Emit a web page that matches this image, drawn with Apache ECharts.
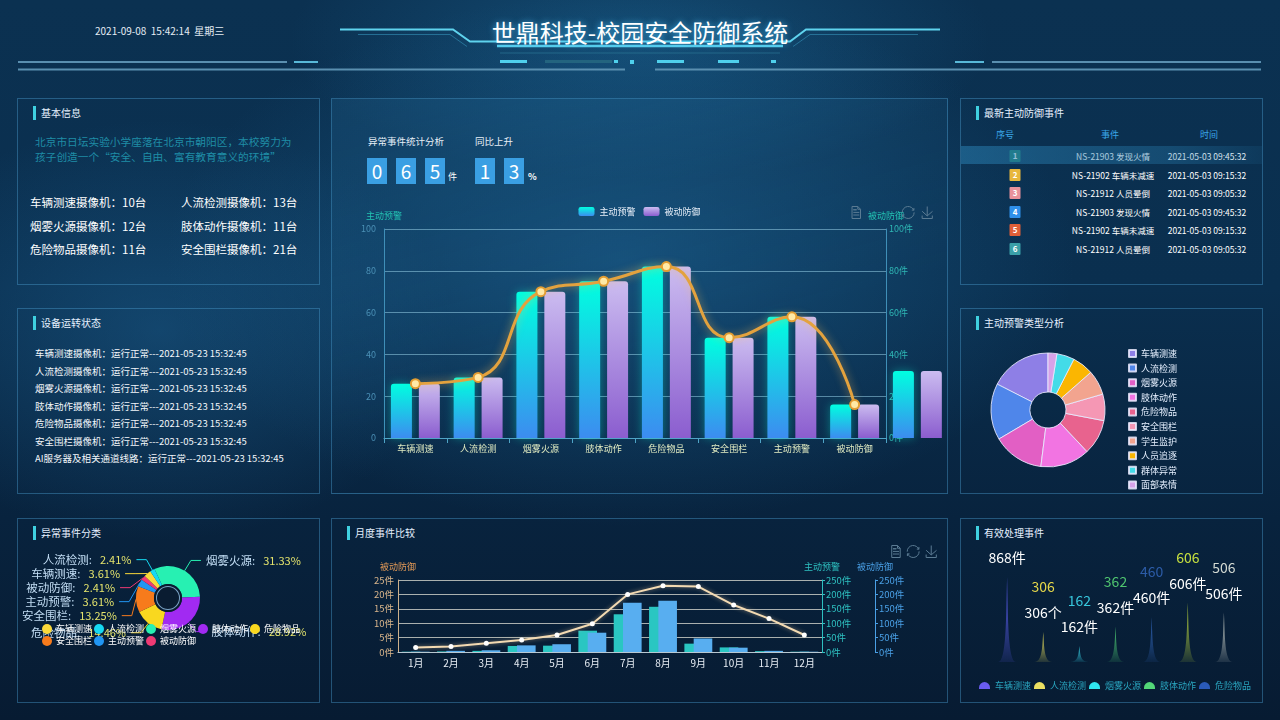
<!DOCTYPE html>
<html><head><meta charset="utf-8">
<script src="https://cdn.jsdelivr.net/npm/echarts@6/dist/echarts.min.js"></script>
<style>
*{margin:0;padding:0;box-sizing:border-box;}
html,body{width:1280px;height:720px;overflow:hidden;}
body{position:relative;font-family:"Microsoft YaHei","Noto Sans CJK SC",sans-serif;color:#fff;
background:
 radial-gradient(ellipse 650px 380px at 620px 260px, rgba(30,105,155,0.55), rgba(30,105,155,0) 70%),
 radial-gradient(ellipse 420px 300px at 160px 330px, rgba(30,100,150,0.45), rgba(30,100,150,0) 70%),
 radial-gradient(ellipse 500px 200px at 640px 40px, rgba(30,110,160,0.45), rgba(30,110,160,0) 70%),
 linear-gradient(180deg,#0b3151 0%,#0a2f4f 40%,#08233e 72%,#071b32 100%);}
.abs{position:absolute;}
.panel{position:absolute;border:1px solid rgba(72,150,200,0.45);}
.ptitle{position:absolute;left:15px;top:7px;font-size:10px;line-height:14px;color:#e6f1ff;padding-left:5px;border-left:3px solid #3fd0e0;white-space:nowrap;}
.chart{position:absolute;}
.dbox{position:absolute;width:20px;height:26px;background:#3a9fe3;color:#fff;font-size:19px;line-height:26px;text-align:center;}
.small{position:absolute;font-size:9px;color:#fff;}
.row{position:absolute;font-size:9.5px;color:#f2f6fa;white-space:nowrap;}
.cam{position:absolute;font-size:11.5px;color:#fff;white-space:nowrap;}
.th{position:absolute;font-size:9px;color:#3aa6e8;transform:translateX(-50%);white-space:nowrap;}
.td{position:absolute;font-size:8.5px;color:#fff;transform:translateX(-50%);white-space:nowrap;line-height:12px;}
.badge{position:absolute;width:11px;height:12px;font-size:8px;line-height:12px;text-align:center;color:#fff;font-weight:bold;transform:translateX(-50%);border-radius:1px;}
</style></head>
<body>
<svg class="abs" style="left:0;top:0" width="1280" height="80">
 <path d="M340 29.5 H453 L470 41.5 H790 L806 29.5 H940" stroke="#5fd3ee" stroke-width="2" fill="none"/>
 <path d="M358 34.5 H450 L467 46.5" stroke="#2f86ad" stroke-width="1" fill="none" opacity="0.7"/>
 <path d="M793 46.5 L810 34.5 H918" stroke="#2f86ad" stroke-width="1" fill="none" opacity="0.7"/>
 <line x1="497" y1="46" x2="783" y2="46" stroke="#55cdec" stroke-width="2.5"/>
 <line x1="500" y1="53" x2="780" y2="53" stroke="#2a7696" stroke-width="1" opacity="0.7"/>
 <line x1="18" y1="62" x2="287" y2="62" stroke="#5a8fb0" stroke-width="2"/>
 <line x1="294" y1="62" x2="318" y2="62" stroke="#58b8d8" stroke-width="2"/>
 <line x1="18" y1="69.5" x2="625" y2="69.5" stroke="#5a8fb0" stroke-width="2"/>
 <line x1="655" y1="69.5" x2="1261" y2="69.5" stroke="#5a8fb0" stroke-width="2"/>
 <line x1="955" y1="62" x2="984" y2="62" stroke="#58b8d8" stroke-width="2"/>
 <line x1="992" y1="62" x2="1261" y2="62" stroke="#5a8fb0" stroke-width="2"/>
 <rect x="500" y="60" width="27" height="3" fill="#4fd0ec"/>
 <rect x="545" y="60" width="67" height="3" fill="#23647f"/>
 <rect x="614" y="60" width="4" height="3" fill="#4fd0ec"/>
 <rect x="630" y="60" width="4" height="4" fill="#4fd0ec"/>
 <rect x="657" y="60" width="27" height="3" fill="#4fd0ec"/>
 <rect x="718" y="60" width="21" height="3" fill="#4fd0ec"/>
 <rect x="771" y="60" width="5" height="3" fill="#4fd0ec"/>
</svg>
<div id="hdate" class="abs" style="left:95px;top:23px;font-size:10px;color:#e4ecf4;white-space:pre;"></div>
<div id="htitle" class="abs" style="left:440px;width:400px;top:16px;font-size:24px;line-height:32px;text-align:center;color:#fff;text-shadow:0 0 6px rgba(80,200,255,0.8);"></div>

<div class="panel" style="left:17px;top:98px;width:303px;height:187px;"><div class="ptitle">基本信息</div></div>
<div class="panel" style="left:17px;top:308px;width:303px;height:186px;"><div class="ptitle">设备运转状态</div></div>
<div class="panel" style="left:17px;top:518px;width:303px;height:185px;"><div class="ptitle">异常事件分类</div></div>
<div class="panel" style="left:331px;top:98px;width:617px;height:396px;background:linear-gradient(165deg,rgba(40,120,170,0.18),rgba(40,120,170,0) 60%);"></div>
<div class="panel" style="left:331px;top:518px;width:617px;height:185px;"><div class="ptitle">月度事件比较</div></div>
<div class="panel" style="left:960px;top:98px;width:303px;height:187px;"><div class="ptitle">最新主动防御事件</div></div>
<div class="panel" style="left:960px;top:308px;width:303px;height:186px;"><div class="ptitle">主动预警类型分析</div></div>
<div class="panel" style="left:960px;top:518px;width:303px;height:185px;"><div class="ptitle">有效处理事件</div></div>

<div id="intro" class="abs" style="left:35px;top:134px;width:265px;font-size:10.7px;line-height:15px;color:#1f8da6;"></div>
<div id="cams"></div>
<div id="devs"></div>
<div class="abs" style="left:368px;top:134px;font-size:9.5px;color:#e8f0f8;">异常事件统计分析</div>
<div class="abs" style="left:475px;top:134px;font-size:9.5px;color:#e8f0f8;">同比上升</div>
<div id="digits"></div>
<div id="tbl"></div>
<div class="abs" style="left:961px;top:146px;width:301px;height:18px;background:linear-gradient(90deg,rgba(40,125,175,0.55),rgba(40,125,175,0.35) 70%,rgba(40,125,175,0.12));"></div>

<div id="c1" class="chart" style="left:331px;top:98px;width:617px;height:396px;"></div>
<div id="c2" class="chart" style="left:331px;top:518px;width:617px;height:185px;"></div>
<div class="abs" style="left:17px;top:518px;width:303px;height:185px;overflow:hidden;">
  <div id="c3" class="chart" style="left:-17px;top:0;width:320px;height:185px;"></div>
</div>
<div id="c4" class="chart" style="left:960px;top:308px;width:303px;height:186px;"></div>
<div id="c5" class="chart" style="left:960px;top:545px;width:303px;height:158px;"></div>

<script>
// ---------- data ----------
const headerDate = '2021-09-08  15:42:14  星期三';
const titleText = '世鼎科技-校园安全防御系统';
const introText = '北京市日坛实验小学座落在北京市朝阳区，本校努力为孩子创造一个“安全、自由、富有教育意义的环境”';
const cameraNames = ['车辆测速摄像机','人流检测摄像机','烟雾火源摄像机','肢体动作摄像机','危险物品摄像机','安全围栏摄像机'];
const cameraCounts = [10,13,12,11,11,21];
const deviceNames = ['车辆测速摄像机','人流检测摄像机','烟雾火源摄像机','肢体动作摄像机','危险物品摄像机','安全围栏摄像机','AI服务器及相关通道线路'];
const deviceStatus = '运行正常---2021-05-23 15:32:45';
const countDigits = ['0','6','5'];
const rateDigits = ['1','3'];

const mainCategories = ['车辆测速','人流检测','烟雾火源','肢体动作','危险物品','安全围栏','主动预警','被动防御'];
const activeValues  = [26,29,70,75,82,48,58,16,32];
const passiveValues = [26,29,70,75,82,48,58,16,32];
const trendValues   = [26,29,70,75,82,48,58,16];

const tableHeaders = ['序号','事件','时间'];
const eventNos = ['1','2','3','4','5','6'];
const eventNames = ['NS-21903 发现火情','NS-21902 车辆未减速','NS-21912 人员晕倒','NS-21903 发现火情','NS-21902 车辆未减速','NS-21912 人员晕倒'];
const eventTimes = ['2021-05-03 09:45:32','2021-05-03 09:15:32','2021-05-03 09:05:32','2021-05-03 09:45:32','2021-05-03 09:15:32','2021-05-03 09:05:32'];
const badgeColors = ['#1b7a6c','#e8b73c','#e9929b','#2f90ea','#df5f38','#3a9fa8'];

const abnormalNames  = ['烟雾火源','肢体动作','危险物品','安全围栏','主动预警','被动防御','车辆测速','人流检测'];
const abnormalValues = [26,24,12,11,3,2,3,2];
const abnormalColors = ['#27f0b2','#a12af2','#f9d81f','#f77b1c','#2196f3','#ee3a74','#fbd93a','#16d9f2'];
const abnormalLegend = ['车辆测速','人流检测','烟雾火源','肢体动作','危险物品','安全围栏','主动预警','被动防御'];

const warnNames  = ['车辆测速','人流检测','烟雾火源','肢体动作','危险物品','安全围栏','学生监护','人员追逐','群体异常','面部表情'];
const warnValues = [35,32,29,28,20,15,14,12,10,5];
const warnColors = ['#8e7fe6','#4f86ea','#e25fc4','#f274e2','#e8638e','#f597b4','#f2a48f','#fbb601','#43dbe8','#d7a2e8'];

const months = ['1月','2月','3月','4月','5月','6月','7月','8月','9月','10月','11月','12月'];
const monthActive  = [1,2,4,21,22,74,131,157,29,16,3,1];
const monthPassive = [1,4,6,23,27,67,171,178,47,15,4,1];
const monthTrend   = [1.6,1.9,3.0,4.2,5.9,9.8,20.0,23.0,22.7,16.3,11.6,5.9];

const handledNames  = ['车辆测速','人流检测','烟雾火源','肢体动作','危险物品','安全围栏','主动预警'];
const handledValues = [868,306,162,362,460,606,506];
const handledUnits  = ['件','个','件','件','件','件','件'];
const handledColors = ['#5b5cf0','#e6dd5a','#35c8dc','#4cc872','#2f62b4','#b9d43c','#c7cdc6'];
const handledLabelColors = ['#6a6af2','#e6d84a','#37c6dc','#4fc46f','#2c5ca8','#c6e03f','#d3dad3'];
const handledLegendColors = ['#6a5cf0','#ece062','#30e6f0','#52d678','#2a5ab8'];

// ---------- html text ----------
document.getElementById('hdate').textContent = headerDate;
document.getElementById('htitle').textContent = titleText;
document.getElementById('intro').textContent = introText;
(function(){
  let h='';
  const ys=[194,218,241];
  cameraNames.forEach((n,i)=>{
    const x = i%2===0 ? 30 : 181;
    const y = ys[Math.floor(i/2)];
    h += `<div class="cam" style="left:${x}px;top:${y}px">${n}：${cameraCounts[i]}台</div>`;
  });
  document.getElementById('cams').innerHTML = h;
  let d='';
  deviceNames.forEach((n,i)=>{
    d += `<div class="row" style="left:35px;top:${346+i*17.5}px">${n}：${deviceStatus}</div>`;
  });
  document.getElementById('devs').innerHTML = d;
  let g='';
  countDigits.forEach((c,i)=>{ g += `<div class="dbox" style="left:${367+i*29}px;top:158px">${c}</div>`; });
  g += `<div class="small" style="left:448px;top:170px">件</div>`;
  rateDigits.forEach((c,i)=>{ g += `<div class="dbox" style="left:${475+i*29}px;top:158px">${c}</div>`; });
  g += `<div class="small" style="left:528px;top:170px;font-weight:bold">%</div>`;
  document.getElementById('digits').innerHTML = g;
  let t='';
  const hx=[1005,1110,1209];
  tableHeaders.forEach((s,i)=>{ t += `<div class="th" style="left:${hx[i]}px;top:128px">${s}</div>`; });
  eventNos.forEach((s,i)=>{
    const y = 150 + i*18.6;
    t += `<div class="badge" style="left:1015px;top:${y}px;background:${badgeColors[i]}">${s}</div>`;
    t += `<div class="td" style="left:1113px;top:${y}px">${eventNames[i]}</div>`;
    t += `<div class="td" style="left:1207px;top:${y}px">${eventTimes[i]}</div>`;
  });
  document.getElementById('tbl').innerHTML = t;
})();

// ---------- charts ----------
const FONT = '"Microsoft YaHei","Noto Sans CJK SC",sans-serif';
const LG = (a,b)=> new echarts.graphic.LinearGradient(0,0,0,1,[{offset:0,color:a},{offset:1,color:b}]);

const c1 = echarts.init(document.getElementById('c1'));
c1.setOption({
  animation:false,
  textStyle:{fontFamily:FONT},
  legend:{data:['主动预警','被动防御'],left:'center',top:104,itemWidth:16,itemHeight:9,itemGap:8,textStyle:{color:'#e6eef8',fontSize:9}},
  toolbox:[
    {right:70,top:91,itemSize:12,feature:{dataView:{}},iconStyle:{borderColor:'#5b7b93'}},
    {right:-2,top:91,itemSize:12,itemGap:3,feature:{restore:{},saveAsImage:{}},iconStyle:{borderColor:'#5b7b93'}}
  ],
  grid:{left:53,right:62,top:131,bottom:56,outerBoundsMode:'none'},
  xAxis:{type:'category',data:mainCategories,
    axisLine:{lineStyle:{color:'#4fa3c6'}},
    axisTick:{show:true,lineStyle:{color:'#4fa3c6'}},
    axisLabel:{color:'#e2ecc2',fontSize:9,margin:6,interval:0}},
  yAxis:[
    {type:'value',min:0,max:100,interval:20,name:'主动预警',nameGap:9,
      nameTextStyle:{color:'#23c4b4',fontSize:9},
      axisLine:{show:true,lineStyle:{color:'#3f8fb8'}},axisTick:{show:false},
      axisLabel:{color:'#4b90b6',fontSize:9},
      splitLine:{show:true,lineStyle:{color:'rgba(150,205,230,0.55)'}}},
    {type:'value',min:0,max:100,interval:20,name:'被动防御',nameGap:9,position:'right',
      nameTextStyle:{color:'#23c4b4',fontSize:9},
      axisLine:{show:true,lineStyle:{color:'#3f8fb8'}},axisTick:{show:false},
      axisLabel:{color:'#2fb8b6',fontSize:9,formatter:'{value}件',margin:3},
      splitLine:{show:false}}
  ],
  series:[
    {name:'主动预警',type:'bar',data:activeValues,barWidth:21,barGap:'33%',clip:false,
      itemStyle:{color:LG('#00ffe0','#3c8cf0'),borderRadius:[3,3,0,0],shadowColor:'rgba(0,255,220,0.35)',shadowBlur:10}},
    {name:'被动防御',type:'bar',data:passiveValues,barWidth:21,clip:false,
      itemStyle:{color:LG('#cbbcf0','#8b5dcf'),borderRadius:[3,3,0,0]}},
    {name:'趋势',type:'line',data:trendValues,smooth:true,z:5,symbol:'circle',symbolSize:9,
      lineStyle:{color:'#e3a23e',width:3,shadowColor:'rgba(255,190,80,0.6)',shadowBlur:8},
      itemStyle:{color:'#ffe9a6',borderColor:'#e49e32',borderWidth:2}}
  ]
});

const c2 = echarts.init(document.getElementById('c2'));
const rightAxis = (name,color,offset)=>({type:'value',min:0,max:250,interval:50,position:'right',offset:offset,
  name:name,nameGap:9,nameTextStyle:{color:color,fontSize:9},
  axisLine:{show:true,lineStyle:{color:color}},axisTick:{show:true,length:3,lineStyle:{color:color}},
  axisLabel:{color:color,fontSize:9.5,formatter:'{value}件',margin:4},splitLine:{show:false}});
c2.setOption({
  animation:false,
  textStyle:{fontFamily:FONT},
  toolbox:{right:-6,top:10,itemSize:12,itemGap:2,feature:{dataView:{},restore:{},saveAsImage:{}},iconStyle:{borderColor:'#5b7b93'}},
  grid:{left:67,right:126,top:62,bottom:51,outerBoundsMode:'none'},
  xAxis:{type:'category',data:months,axisLine:{lineStyle:{color:'#b8c8d2'}},axisTick:{show:false},
    axisLabel:{color:'#e8eef5',fontSize:10,margin:6,interval:0}},
  yAxis:[
    {type:'value',min:0,max:25,interval:5,name:'被动防御',nameGap:9,nameTextStyle:{color:'#e39a57',fontSize:9},
      axisLine:{show:true,lineStyle:{color:'#cdb08a'}},axisTick:{show:false},
      axisLabel:{color:'#d9b58b',fontSize:9.5,formatter:'{value}件',margin:4},
      splitLine:{show:true,lineStyle:{color:'rgba(225,225,215,0.75)'}}},
    rightAxis('主动预警','#2ec0c0',0),
    rightAxis('被动防御','#4aa0e6',53)
  ],
  series:[
    {name:'主动预警',type:'bar',yAxisIndex:1,data:monthActive,barWidth:18.6,barGap:'-50%',itemStyle:{color:'#2ac6c2'}},
    {name:'被动防御',type:'bar',yAxisIndex:2,data:monthPassive,barWidth:18.6,itemStyle:{color:'#58aef0'}},
    {name:'被动防御趋势',type:'line',yAxisIndex:0,data:monthTrend,symbol:'circle',symbolSize:5,z:5,
      lineStyle:{color:'#f3dab2',width:2,shadowColor:'rgba(255,220,170,0.5)',shadowBlur:4},
      itemStyle:{color:'#ffffff'}}
  ]
});

const c3 = echarts.init(document.getElementById('c3'));
c3.setOption({
  animation:false,
  textStyle:{fontFamily:FONT},
  legend:{data:abnormalLegend,left:37,top:101,width:270,itemWidth:10,itemHeight:10,itemGap:2,icon:'circle',
    textStyle:{color:'#ffffff',fontSize:9,padding:[0,0,0,-1]}},
  series:[
    {type:'pie',center:[168,80],radius:[14,32],startAngle:115,
      data:abnormalNames.map((n,i)=>({name:n,value:abnormalValues[i],itemStyle:{color:abnormalColors[i]}})),
      label:{lineHeight:10,height:10,formatter:'{n|{b}:}   {p|{d}%}',rich:{n:{color:'#c3def5',fontSize:11.5,lineHeight:10},p:{color:'#e4e36c',fontSize:11,lineHeight:10}}},
      labelLine:{length:12,length2:10}},
    {type:'pie',center:[168,80],radius:[0,14],silent:true,label:{show:false},labelLine:{show:false},
      data:[{value:1,name:'',itemStyle:{color:'#0a1c31'}}]},
    {type:'pie',center:[168,80],radius:[11,12],silent:true,label:{show:false},labelLine:{show:false},
      data:[{value:1,name:'',itemStyle:{color:'#7aa2c4'}}]}
  ]
});

const c4 = echarts.init(document.getElementById('c4'));
c4.setOption({
  animation:false,
  textStyle:{fontFamily:FONT},
  legend:{orient:'vertical',data:warnNames,left:163,top:36,height:170,itemWidth:7,itemHeight:7,itemGap:5.6,icon:'rect',
    textStyle:{color:'#e6f0ff',fontSize:9}},
  series:[{type:'pie',center:[88,102],radius:[18,57],startAngle:90,clockwise:false,
    label:{show:false},labelLine:{show:false},
    itemStyle:{borderColor:'rgba(235,235,255,0.85)',borderWidth:1},
    data:warnNames.map((n,i)=>({name:n,value:warnValues[i],itemStyle:{color:warnColors[i]}}))}]
});

const c5 = echarts.init(document.getElementById('c5'));
const spike = 'path://M0,10 L10,10 C5.5,10 5.5,5 5,0 C4.5,5 4.5,10 0,10 z';
const hexA = (hex,a)=>{const r=parseInt(hex.slice(1,3),16),g=parseInt(hex.slice(3,5),16),b=parseInt(hex.slice(5,7),16);return `rgba(${r},${g},${b},${a})`;};
c5.setOption({
  animation:false,
  textStyle:{fontFamily:FONT},
  legend:{data:handledNames.slice(0,5).map((n,i)=>({name:n,itemStyle:{color:handledLegendColors[i]}})),
    left:14,top:131,itemWidth:11,itemHeight:9,itemGap:3,icon:'path://M0,9 A8,8 0 0 1 16,9 L16,11 L0,11 Z',
    textStyle:{color:'#2aa6c0',fontSize:9}},
  grid:{left:29,right:21,top:19,bottom:41,outerBoundsMode:'none'},
  xAxis:{type:'category',data:handledNames,show:false},
  yAxis:{type:'value',min:0,max:1000,show:false},
  series:handledNames.map((n,i)=>({
    name:n,type:'pictorialBar',barWidth:30,barGap:'-100%',symbol:spike,symbolSize:[18,'100%'],
    data:handledValues.map((v,j)=> j===i ? v : '-'),
    itemStyle:{color:LG(hexA(handledColors[i],1),hexA(handledColors[i],0.12))},
    label:{show:true,position:'top',distance:10,
      formatter:(p)=>`{n|${p.value}}\n{u|${p.value}${handledUnits[i]}}`,
      rich:{n:{color:handledLabelColors[i],fontSize:14,lineHeight:34},u:{color:'#ffffff',fontSize:14,lineHeight:18}}}
  }))
});
</script>
</body></html>
